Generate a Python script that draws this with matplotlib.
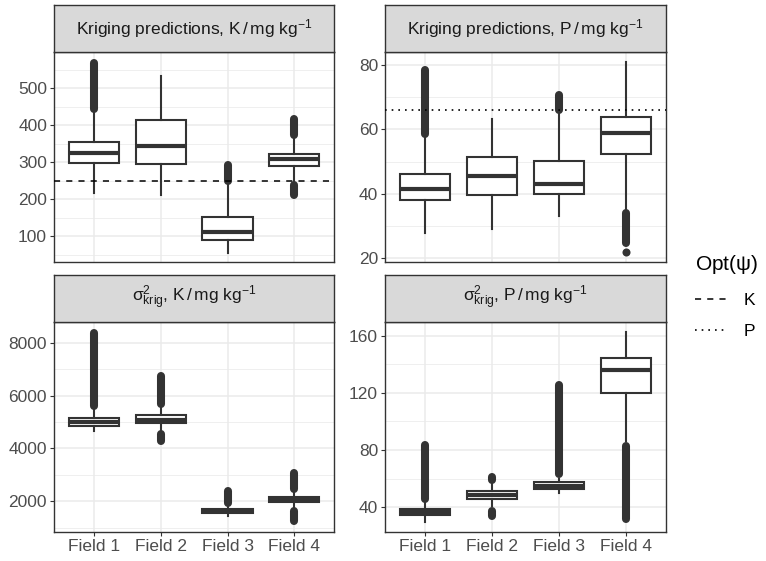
import matplotlib
matplotlib.use("Agg")
import matplotlib.pyplot as plt
from matplotlib.ticker import MultipleLocator

plt.rcParams['font.family'] = ['Liberation Sans', 'DejaVu Sans']
plt.rcParams['mathtext.fontset'] = 'custom'
plt.rcParams['mathtext.rm'] = 'Liberation Sans'
plt.rcParams['mathtext.it'] = 'Liberation Sans:italic'
plt.rcParams['mathtext.bf'] = 'Liberation Sans:bold'
plt.rcParams['mathtext.default'] = 'regular'

# ---------------- data ----------------
fields = ["Field 1", "Field 2", "Field 3", "Field 4"]

# Kriging predictions, K
kpred_whislo = [217, 211, 56, 250]
kpred_q1 = [298, 296, 91, 291]
kpred_med = [324, 345, 111, 308]
kpred_q3 = [355, 415, 152, 323]
kpred_whishi = [438, 533, 243, 368]
kpred_out = [[(445, 569)], [], [(251, 294)], [(375, 417), (212, 240)]]

# Kriging predictions, P
ppred_whislo = [27.8, 29.1, 33.1, 35.0]
ppred_q1 = [37.9, 39.7, 40.0, 52.2]
ppred_med = [41.4, 45.4, 43.1, 58.7]
ppred_q3 = [46.1, 51.3, 50.2, 63.8]
ppred_whishi = [57.5, 63.2, 64.6, 80.8]
ppred_out = [[(58.6, 78.3)], [], [(66.0, 70.8)], [(24.6, 34.0), (21.8, 21.8)]]

# Kriging variance, K
kvar_whislo = [4672, 4700, 1445, 1800]
kvar_q1 = [4860, 4975, 1565, 1955]
kvar_med = [4990, 5080, 1630, 2040]
kvar_q3 = [5140, 5265, 1705, 2170]
kvar_whishi = [5450, 5540, 1800, 2320]
kvar_out = [[(5605, 8353)], [(5690, 6750), (4280, 4550)], [(1950, 2400)],
            [(2480, 3060), (1256, 1647)]]

# Kriging variance, P
pvar_whislo = [30.0, 41.0, 49.8, 86.0]
pvar_q1 = [34.3, 45.6, 52.8, 120.2]
pvar_med = [36.8, 48.5, 55.0, 136.0]
pvar_q3 = [39.0, 51.4, 57.5, 144.2]
pvar_whishi = [43.0, 56.0, 60.0, 162.8]
pvar_out = [[(46.1, 83.8)], [(59.1, 61.4), (34.0, 37.7)], [(63.1, 125.7)],
            [(31.6, 83.1)]]

opt_labels = ["K", "P"]
opt_values = [250, 66]

titles = [
    r"Kriging predictions, K$\,/\,$mg kg$^{-1}$",
    r"Kriging predictions, P$\,/\,$mg kg$^{-1}$",
    r"$\sigma^{2}_{krig}$, K$\,/\,$mg kg$^{-1}$",
    r"$\sigma^{2}_{krig}$, P$\,/\,$mg kg$^{-1}$",
]

# ---------------- style ----------------
DARK = "#333333"
GRID = "#EBEBEB"
TICKC = "#4D4D4D"
STRIP = "#D9D9D9"
FS = 12.5

W, H = 766, 561
fig = plt.figure(figsize=(W / 100, H / 100), dpi=100)


def fx(px):
    return px / W


def fy(py):
    return 1 - py / H


panel_px = [  # left, top, right, bottom, strip_top
    (54, 52.3, 334.3, 261.7, 5),
    (385, 52.3, 665.7, 261.7, 5),
    (54, 321.7, 334.3, 531.7, 274.7),
    (385, 321.7, 665.7, 531.7, 274.7),
]

panels = [
    (kpred_whislo, kpred_q1, kpred_med, kpred_q3, kpred_whishi, kpred_out),
    (ppred_whislo, ppred_q1, ppred_med, ppred_q3, ppred_whishi, ppred_out),
    (kvar_whislo, kvar_q1, kvar_med, kvar_q3, kvar_whishi, kvar_out),
    (pvar_whislo, pvar_q1, pvar_med, pvar_q3, pvar_whishi, pvar_out),
]
ylims = [(32, 597), (18.9, 83.9), (850, 8794), (22.9, 169.8)]
majors = [100, 20, 2000, 40]
minors = [50, 10, 1000, 20]

opt_lines = {}
for k, ((l, t, r, b, st), data) in enumerate(zip(panel_px, panels)):
    ax = fig.add_axes([fx(l), fy(b), fx(r) - fx(l), fy(t) - fy(b)])
    whislo, q1, med, q3, whishi, outs = data
    stats = []
    for i in range(len(fields)):
        stats.append(dict(whislo=whislo[i], q1=q1[i], med=med[i], q3=q3[i],
                          whishi=whishi[i], fliers=[], label=fields[i]))
    pos = list(range(1, len(fields) + 1))
    ax.bxp(stats, positions=pos, widths=0.75, showcaps=False,
           showfliers=False, patch_artist=True,
           boxprops=dict(facecolor="white", edgecolor=DARK, linewidth=1.5),
           whiskerprops=dict(color=DARK, linewidth=1.5),
           medianprops=dict(color=DARK, linewidth=3.0, solid_capstyle="butt"),
           zorder=3)
    for i, rngs in enumerate(outs):
        for lo, hi in rngs:
            if lo == hi:
                ax.plot([pos[i]], [lo], "o", color=DARK, ms=5.8, mew=0, zorder=4)
            else:
                ax.plot([pos[i], pos[i]], [lo, hi], color=DARK, lw=5.8,
                        solid_capstyle="round", zorder=4)
    if k == 0:
        opt_lines["K"] = ax.axhline(opt_values[0], color="black", lw=1.1,
                                    linestyle=(0, (4, 4)), zorder=5)
    if k == 1:
        opt_lines["P"] = ax.axhline(opt_values[1], color="black", lw=1.2,
                                    linestyle=(0, (1, 3)), zorder=5)

    ax.set_xlim(0.4, 4.6)
    ax.set_ylim(*ylims[k])
    ax.yaxis.set_major_locator(MultipleLocator(majors[k]))
    ax.yaxis.set_minor_locator(MultipleLocator(minors[k]))
    ax.set_xticks(pos)
    ax.set_axisbelow(True)
    ax.grid(True, which="major", color=GRID, lw=1.1)
    ax.grid(True, which="minor", axis="y", color=GRID, lw=0.55)
    for s in ax.spines.values():
        s.set_color(DARK)
        s.set_linewidth(1.0)
    ax.tick_params(axis="y", which="major", length=3, width=0.8, color=DARK,
                   labelcolor=TICKC, labelsize=FS, pad=2)
    ax.tick_params(which="minor", length=0)
    if k < 2:
        ax.tick_params(axis="x", length=0, labelbottom=False)
    else:
        ax.set_xticklabels(fields)
        ax.tick_params(axis="x", length=3, width=0.8, color=DARK,
                       labelcolor=TICKC, labelsize=FS, pad=2)

    # strip
    sax = fig.add_axes([fx(l), fy(t), fx(r) - fx(l), fy(st) - fy(t)])
    sax.set_facecolor(STRIP)
    sax.set_xticks([])
    sax.set_yticks([])
    for s in sax.spines.values():
        s.set_color(DARK)
        s.set_linewidth(1.0)
    sax.text(0.5, 0.5, titles[k], ha="center", va="center", fontsize=FS,
             color="#1A1A1A", transform=sax.transAxes)

leg = fig.legend(handles=[opt_lines[n] for n in opt_labels], labels=opt_labels,
                 title=r"Opt($\psi$)", loc="upper left",
                 bbox_to_anchor=(fx(688), fy(246)), frameon=False,
                 fontsize=FS, title_fontsize=15, handlelength=1.8,
                 labelspacing=0.95, handletextpad=1.0, alignment="left",
                 borderaxespad=0)

fig.savefig("out.png", dpi=100)
